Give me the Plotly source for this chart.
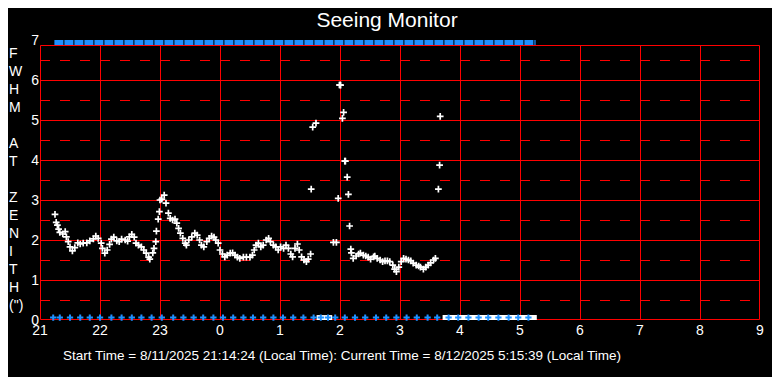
import plotly.graph_objects as go

# ---------------- data ----------------
hour_ticks = list(range(21, 34))
hour_labels = ["21", "22", "23", "0", "1", "2", "3", "4", "5", "6", "7", "8", "9"]
fwhm_ticks = [0, 1, 2, 3, 4, 5, 6, 7]

# FWHM seeing measurements (hours since midnight of start day, arcsec)
seeing_t = [21.25, 21.27, 21.29, 21.31, 21.33, 21.38, 21.42, 21.44, 21.47, 21.50,
            21.54, 21.58, 21.63, 21.67, 21.72, 21.78, 21.83, 21.89, 21.93, 21.97,
            22.02, 22.04, 22.08, 22.12, 22.16, 22.19, 22.23, 22.28, 22.32, 22.36,
            22.42, 22.46, 22.49, 22.53, 22.57, 22.60, 22.64, 22.69, 22.73, 22.77,
            22.81, 22.83, 22.88, 22.90, 22.93, 22.94, 22.97, 22.99, 23.00, 23.03,
            23.07, 23.10, 23.14, 23.17, 23.21, 23.25, 23.28, 23.31, 23.34, 23.38,
            23.42, 23.44, 23.48, 23.53, 23.58, 23.62, 23.66, 23.69, 23.73, 23.78,
            23.82, 23.86, 23.90, 23.93, 23.97, 24.00, 24.04, 24.08, 24.12, 24.17,
            24.21, 24.25, 24.29, 24.33, 24.39, 24.44, 24.50, 24.54, 24.57, 24.60,
            24.64, 24.68, 24.72, 24.77, 24.81, 24.84, 24.89, 24.93, 24.97, 25.01,
            25.06, 25.10, 25.14, 25.18, 25.21, 25.25, 25.29, 25.32, 25.36, 25.40,
            25.44, 25.47, 25.51, 25.52, 25.545, 25.60, 25.89, 25.94, 25.97, 25.99,
            26.00, 26.01, 26.04, 26.06, 26.08, 26.09, 26.12, 26.14, 26.16, 26.18,
            26.19, 26.22, 26.27, 26.31, 26.34, 26.39, 26.43, 26.47, 26.51, 26.56,
            26.58, 26.62, 26.67, 26.71, 26.75, 26.79, 26.83, 26.88, 26.91, 26.94,
            26.98, 27.02, 27.06, 27.10, 27.14, 27.18, 27.22, 27.27, 27.31, 27.34,
            27.39, 27.43, 27.47, 27.51, 27.56, 27.59, 27.64, 27.66, 27.67]
seeing_v = [2.64, 2.44, 2.37, 2.27, 2.19, 2.15, 2.21, 2.08, 1.96, 1.83,
            1.73, 1.81, 1.93, 1.90, 1.92, 1.93, 1.98, 2.03, 2.10, 2.04,
            1.92, 1.79, 1.67, 1.75, 1.89, 2.02, 2.07, 1.98, 1.96, 2.02,
            2.00, 1.97, 2.08, 2.14, 2.07, 1.92, 1.87, 1.83, 1.75, 1.67,
            1.57, 1.52, 1.68, 1.79, 1.96, 2.22, 2.52, 2.71, 3.00, 3.02,
            3.12, 2.92, 2.67, 2.54, 2.50, 2.52, 2.42, 2.29, 2.17, 2.04,
            1.92, 1.87, 2.00, 2.08, 2.17, 2.12, 2.00, 1.87, 1.83, 1.96,
            2.04, 2.10, 2.07, 2.00, 1.92, 1.75, 1.65, 1.58, 1.62, 1.67,
            1.68, 1.62, 1.57, 1.54, 1.57, 1.57, 1.57, 1.62, 1.75, 1.87,
            1.92, 1.83, 1.87, 2.00, 2.04, 1.96, 1.87, 1.83, 1.75, 1.83,
            1.79, 1.87, 1.79, 1.65, 1.58, 1.79, 1.90, 1.75, 1.58, 1.50,
            1.46, 1.52, 1.65, 3.27, 4.82, 4.92, 1.94, 1.94, 3.04, 5.875,
            5.875, 5.87, 5.04, 5.19, 3.97, 3.97, 3.57, 3.14, 2.35, 1.77,
            1.68, 1.54, 1.60, 1.65, 1.67, 1.62, 1.60, 1.57, 1.52, 1.58,
            1.60, 1.54, 1.50, 1.46, 1.48, 1.48, 1.46, 1.37, 1.27, 1.21,
            1.32, 1.46, 1.54, 1.52, 1.50, 1.48, 1.42, 1.37, 1.35, 1.32,
            1.27, 1.32, 1.37, 1.43, 1.50, 1.54, 3.27, 3.87, 5.09]

# status samples drawn along the bottom (blue crosses)
status_t = [21.22, 21.33, 21.50, 21.67, 21.83, 22.00, 22.19, 22.36, 22.53, 22.69,
            22.86, 23.03, 23.22, 23.39, 23.56, 23.72, 23.89, 24.05, 24.22, 24.39,
            24.55, 24.72, 24.89, 25.05, 25.22, 25.39, 25.56, 25.68, 25.80, 25.92,
            26.08, 26.25, 26.42, 26.60, 26.77, 26.94, 27.11, 27.28, 27.46, 27.62,
            27.81, 27.97, 28.14, 28.31, 28.47, 28.64, 28.81, 28.97, 29.14]
status_level = 0.06

# periods with no valid measurement (white band at bottom)
zero_start = [25.61, 27.71]
zero_end = [25.87, 29.28]

# session span (top blue band): start 21:14:24, current 5:15:39
session_start = 21.24
session_end = 29.26
session_level = 6.94

frame_top = 6.875
y_label_letters = ["F", "W", "H", "M", "", "A", "T", "", "Z", "E", "N", "I", "T", "H", "(\")"]

WHITE = "#ffffff"
RED = "#ff0000"
BLUE = "#1e90ff"
FONT = "Liberation Sans, Arial, sans-serif"

# the page body adds an 8px margin, so the figure is drawn 8px smaller
# and offset; the plot area keeps its 720x280 px size
FIG_W, FIG_H = 772, 369
PLOT_W, PLOT_H = 720, 280
hx = (hour_ticks[-1] - hour_ticks[0]) / PLOT_W * 0.5   # half pixel in hours
hy = 7 / PLOT_H * 0.5                                   # half pixel in FWHM units

fig = go.Figure()

# top session band
fig.add_trace(go.Scatter(
    x=[session_start, session_end], y=[session_level, session_level],
    mode="lines", line=dict(color=BLUE, width=5, dash="9px,1px"),
    cliponaxis=False, hoverinfo="skip", showlegend=False))

# zero-measurement bands
zx, zy = [], []
for a, b in zip(zero_start, zero_end):
    zx += [a, b, None]
    zy += [status_level, status_level, None]
fig.add_trace(go.Scatter(
    x=zx, y=zy, mode="lines", line=dict(color=WHITE, width=5),
    cliponaxis=False, hoverinfo="skip", showlegend=False))

# status crosses
fig.add_trace(go.Scatter(
    x=status_t, y=[status_level] * len(status_t), mode="markers",
    marker=dict(symbol="cross-thin", size=4.5, line=dict(color=BLUE, width=2)),
    cliponaxis=False, showlegend=False))

# seeing data
fig.add_trace(go.Scatter(
    x=seeing_t, y=seeing_v, mode="markers",
    marker=dict(symbol="cross-thin", size=4.8, line=dict(color=WHITE, width=1.7)),
    cliponaxis=False, showlegend=False))

# grid and frame (offset by half a pixel so 1px lines are crisp)
shapes = []
for h in hour_ticks[1:-1]:
    shapes.append(dict(type="line", xref="x", yref="y", x0=h + hx, x1=h + hx, y0=0, y1=frame_top,
                       line=dict(color=RED, width=1), layer="below"))
for v in fwhm_ticks[1:-1]:
    shapes.append(dict(type="line", xref="x", yref="y", x0=hour_ticks[0], x1=hour_ticks[-1],
                       y0=v - hy, y1=v - hy, line=dict(color=RED, width=1), layer="below"))
for v in [0.5, 1.5, 2.5, 3.5, 4.5, 5.5, 6.5]:
    shapes.append(dict(type="line", xref="x", yref="y", x0=hour_ticks[0], x1=hour_ticks[-1],
                       y0=v - hy, y1=v - hy, line=dict(color=RED, width=1, dash="10px,10px"),
                       layer="below"))
shapes.append(dict(type="rect", xref="x", yref="y", x0=hour_ticks[0] + hx, x1=hour_ticks[-1] - hx,
                   y0=0 + hy, y1=frame_top - hy, line=dict(color=RED, width=1), layer="below"))

annotations = []
for i, ch in enumerate(y_label_letters):
    if not ch:
        continue
    annotations.append(dict(
        text=ch, xref="paper", yref="y", x=-32 / PLOT_W, y=6.675 - i * 0.45,
        xanchor="left", yanchor="middle", showarrow=False, borderpad=0,
        font=dict(family=FONT, size=14, color=WHITE)))
annotations.append(dict(
    text="Start Time = 8/11/2025 21:14:24 (Local Time): Current Time = 8/12/2025 5:15:39 (Local Time)",
    xref="paper", yref="paper", x=(341.5 - 40) / PLOT_W, y=(320 - 355) / PLOT_H,
    xanchor="center", yanchor="middle",
    showarrow=False, font=dict(family=FONT, size=13.5, color=WHITE)))

fig.update_layout(
    width=FIG_W, height=FIG_H,
    margin=dict(l=32, r=20, t=32, b=57, autoexpand=False),
    paper_bgcolor="black", plot_bgcolor="black",
    title=dict(text="Seeing Monitor", x=379 / FIG_W, xanchor="center", y=1 - 12 / FIG_H,
               yanchor="middle", font=dict(family=FONT, size=21, color=WHITE)),
    xaxis=dict(range=[hour_ticks[0], hour_ticks[-1]], tickvals=hour_ticks, ticktext=hour_labels,
               showgrid=False, zeroline=False, showline=False, ticks="", automargin=False,
               tickfont=dict(family=FONT, size=14, color=WHITE), fixedrange=True),
    yaxis=dict(range=[0, 7], tickvals=fwhm_ticks, showgrid=False, zeroline=False,
               showline=False, ticks="", automargin=False,
               tickfont=dict(family=FONT, size=14, color=WHITE), fixedrange=True),
    shapes=shapes, annotations=annotations, showlegend=False,
)

fig.write_html("out.html", config={"displayModeBar": False})
